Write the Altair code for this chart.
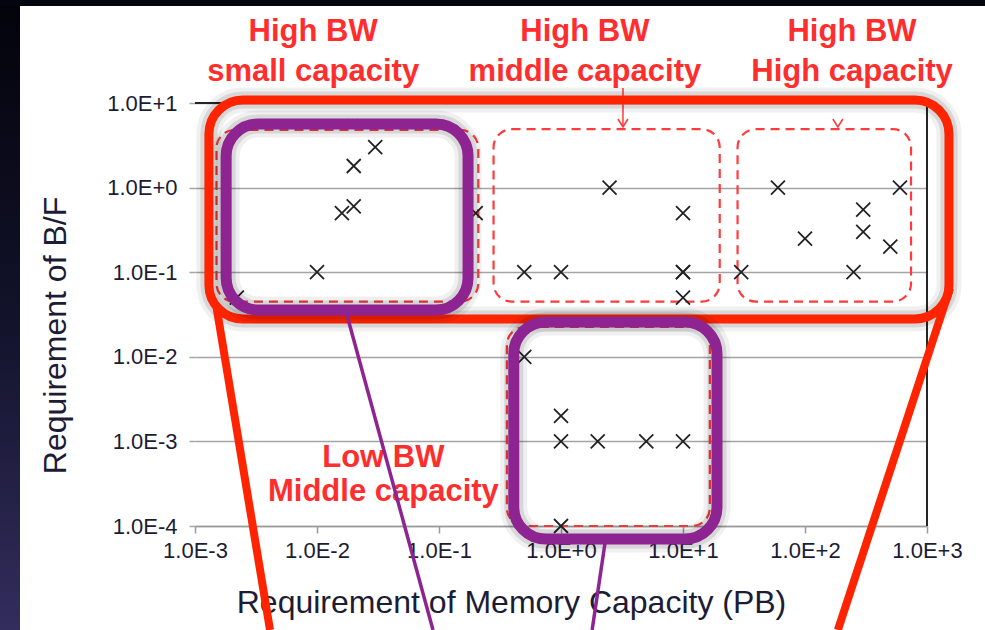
import json
import altair as alt
import pandas as pd

# ---- workloads: memory capacity requirement (PB) vs. required B/F ----
capacity_pb = [0.03, 0.02, 0.016, 0.02, 0.01, 0.0022, 0.2,
               2.5, 10, 0.5, 1.0, 10, 10, 10,
               30, 60, 100, 300, 300, 500, 250, 600,
               0.5, 1.0, 1.0, 2.0, 5.0, 10, 1.0]
bf_required = [3.0, 1.8, 0.5, 0.6, 0.1, 0.05, 0.5,
               1.0, 0.5, 0.1, 0.1, 0.1, 0.1, 0.05,
               0.1, 1.0, 0.25, 0.55, 0.3, 0.2, 0.1, 1.0,
               0.01, 0.002, 0.001, 0.001, 0.001, 0.001, 0.0001]

x_ticks = [0.001, 0.01, 0.1, 1, 10, 100, 1000]
x_tick_labels = ["1.0E-3", "1.0E-2", "1.0E-1", "1.0E+0", "1.0E+1", "1.0E+2", "1.0E+3"]
y_ticks = [0.0001, 0.001, 0.01, 0.1, 1, 10]
y_tick_labels = ["1.0E-4", "1.0E-3", "1.0E-2", "1.0E-1", "1.0E+0", "1.0E+1"]

# ---- category regions (dashed) ----
region_x0 = [0.0015, 0.28, 28, 0.36]
region_x1 = [0.21, 20, 740, 16.6]
region_top = [4.8, 4.9, 4.9, 0.0225]
region_bottom = [0.045, 0.045, 0.045, 0.0001]

# ---- highlighted groups (purple) ----
focus_x0 = [0.0018, 0.41]
focus_x1 = [0.173, 19]
focus_top = [5.65, 0.0258]
focus_bottom = [0.0357, 0.00007]

# ---- high-bandwidth envelope (red) ----
group_x0 = [0.0013]
group_x1 = [1514]
group_top = [10.85]
group_bottom = [0.028]

# ---- callout lines ----
red_line_x0 = [0.00149, 1545]
red_line_x1 = [0.00412, 186]
red_line_y0 = [0.041, 0.065]
red_line_y1 = [5.9e-6, 5.9e-6]
purple_line_x0 = [0.0176, 2.34]
purple_line_x1 = [0.0893, 1.8]
purple_line_y0 = [0.0312, 7.6e-5]
purple_line_y1 = [5.9e-6, 5.9e-6]

# ---- pointers from the category names ----
arrow_x = [0.0197, 3.22, 186]
arrow_y = [5.2, 5.2, 5.2]
stem_x = [3.22]
stem_y0 = [15.0]
stem_y1 = [5.2]

# ---- category names ----
label_text = ["High BW", "small capacity", "High BW", "middle capacity",
              "High BW", "High capacity", "Low BW", "Middle capacity"]
label_x = [0.0093, 0.0093, 1.57, 1.57, 243, 243, 0.035, 0.035]
label_y = [54, 18.2, 54, 18.2, 54, 18.2, 5e-4, 2e-4]

RED = "#ff2400"
DASH_RED = "#ff3b3b"
PURPLE = "#8e2392"
INK = "#1c1c34"
FONT = "Liberation Sans"

xs = alt.Scale(type="log", domain=[0.001, 1000], nice=False)
ys = alt.Scale(type="log", domain=[0.0001, 10], nice=False)

x_axis = alt.Axis(
    values=x_ticks,
    labelExpr=f"{json.dumps(x_tick_labels)}[round(log(datum.value)/LN10) + 3]",
    title="Requirement of Memory Capacity (PB)",
    grid=False, domainColor="#9a9a9a", domainWidth=1.5,
    tickColor="#9a9a9a", tickWidth=1.5, tickSize=7,
    labelFont=FONT, labelFontSize=22, labelColor=INK, labelPadding=7,
    labelOverlap=False, labelFlush=False,
    titleFont=FONT, titleFontSize=32, titleFontWeight="normal", titleColor=INK,
    titleX=316, titleY=86, titleAlign="center", titleBaseline="alphabetic",
)
y_axis = alt.Axis(
    values=y_ticks,
    labelExpr=f"{json.dumps(y_tick_labels)}[round(log(datum.value)/LN10) + 4]",
    title="Requirement of B/F",
    grid=True, gridColor="#a4a4a4", gridWidth=1.5,
    domain=False, tickColor="#a4a4a4", tickWidth=1.5, tickSize=6,
    labelFont=FONT, labelFontSize=22, labelColor=INK, labelPadding=12,
    labelOverlap=False,
    titleFont=FONT, titleFontSize=32, titleFontWeight="normal", titleColor=INK,
    titleAngle=270, titleX=-130, titleY=232, titleAlign="center",
    titleBaseline="alphabetic",
)


def X(field):
    return alt.X(field, scale=xs, axis=x_axis)


def Y(field):
    return alt.Y(field, scale=ys, axis=y_axis)


one = alt.Data(values=[{"k": 0}])

# dark slide edges
edge_gradient = alt.LinearGradient(
    gradient="linear", x1=0, y1=0, x2=0, y2=1,
    stops=[alt.GradientStop(offset=0, color="#03030b"),
           alt.GradientStop(offset=0.5, color="#12122a"),
           alt.GradientStop(offset=1, color="#322d5c")],
)
left_edge = alt.Chart(one).mark_rect(color=edge_gradient, clip=False).encode(
    x=alt.value(-195), x2=alt.value(-175), y=alt.value(-103), y2=alt.value(527))
top_edge = alt.Chart(one).mark_rect(color="#05050f", clip=False).encode(
    x=alt.value(-195), x2=alt.value(790), y=alt.value(-103), y2=alt.value(-97))

regions = pd.DataFrame({"x0": region_x0, "x1": region_x1,
                        "top": region_top, "bottom": region_bottom})
region_layer = alt.Chart(regions).mark_rect(
    fill="transparent", stroke=DASH_RED, strokeWidth=2.2,
    strokeDash=[9, 6], cornerRadius=18, clip=False,
).encode(x=X("x0:Q"), x2="x1:Q", y=Y("top:Q"), y2="bottom:Q")

frame = pd.DataFrame({"x": [1000, 0.001], "x2": [1000, 1000],
                      "y": [0.0001, 10], "y2": [10, 10]})
frame_layer = alt.Chart(frame).mark_rule(color="#262626", strokeWidth=2, clip=False).encode(
    x=X("x:Q"), x2="x2:Q", y=Y("y:Q"), y2="y2:Q")

pts = pd.DataFrame({"capacity": capacity_pb, "bf": bf_required})
point_layer = alt.Chart(pts).mark_point(
    shape="M-1,-1L1,1M-1,1L1,-1", size=196, stroke="#222222",
    strokeWidth=1.8, opacity=1, clip=False,
).encode(x=X("capacity:Q"), y=Y("bf:Q"))

stems = pd.DataFrame({"x": stem_x, "y0": stem_y0, "y1": stem_y1})
stem_layer = alt.Chart(stems).mark_rule(color=DASH_RED, strokeWidth=1.5, clip=False).encode(
    x=X("x:Q"), y=Y("y0:Q"), y2="y1:Q")
arrows = pd.DataFrame({"x": arrow_x, "y": arrow_y})
arrow_layer = alt.Chart(arrows).mark_point(
    shape="M-1,-1.6L0,0L1,-1.6", size=100, stroke=DASH_RED,
    strokeWidth=1.6, opacity=1, clip=False,
).encode(x=X("x:Q"), y=Y("y:Q"))

labels = pd.DataFrame({"text": label_text, "x": label_x, "y": label_y})
label_layer = alt.Chart(labels).mark_text(
    font=FONT, fontSize=31, fontWeight="bold", color="#ff2e2e",
    align="center", baseline="alphabetic", clip=False,
).encode(x=X("x:Q"), y=Y("y:Q"), text="text:N")


def box_layers(df, color, width, radius):
    enc = dict(x=X("x0:Q"), x2="x1:Q", y=Y("top:Q"), y2="bottom:Q")
    halo_wide = alt.Chart(df).mark_rect(
        fill="transparent", stroke="#000000", strokeOpacity=0.06,
        strokeWidth=width + 16, cornerRadius=radius, clip=False).encode(**enc)
    halo = alt.Chart(df).mark_rect(
        fill="transparent", stroke="#000000", strokeOpacity=0.1,
        strokeWidth=width + 8, cornerRadius=radius, clip=False).encode(**enc)
    body = alt.Chart(df).mark_rect(
        fill="transparent", stroke=color, strokeWidth=width,
        cornerRadius=radius, clip=False).encode(**enc)
    return [halo_wide, halo, body]


group = pd.DataFrame({"x0": group_x0, "x1": group_x1,
                      "top": group_top, "bottom": group_bottom})
focus = pd.DataFrame({"x0": focus_x0, "x1": focus_x1,
                      "top": focus_top, "bottom": focus_bottom})


def line_layer(x0, x1, y0, y1, color, width):
    df = pd.DataFrame({"x0": x0, "x1": x1, "y0": y0, "y1": y1})
    return alt.Chart(df).mark_rule(color=color, strokeWidth=width, clip=False).encode(
        x=X("x0:Q"), x2="x1:Q", y=Y("y0:Q"), y2="y1:Q")


red_lines = line_layer(red_line_x0, red_line_x1, red_line_y0, red_line_y1, RED, 8)
purple_lines = line_layer(purple_line_x0, purple_line_x1,
                          purple_line_y0, purple_line_y1, PURPLE, 3.5)

chart = alt.layer(
    region_layer,
    left_edge, top_edge,
    frame_layer,
    stem_layer, arrow_layer,
    point_layer,
    label_layer,
    *box_layers(group, RED, 9, 34),
    red_lines,
    *box_layers(focus, PURPLE, 11, 32),
    purple_lines,
).properties(
    width=732, height=423,
    padding={"left": 195, "top": 103, "right": 58, "bottom": 104},
    autosize=alt.AutoSizeParams(type="none"),
    background="white",
).configure(font=FONT, view=alt.ViewConfig(strokeWidth=0))

chart.save("out.html", embed_options={"renderer": "svg", "actions": False})
